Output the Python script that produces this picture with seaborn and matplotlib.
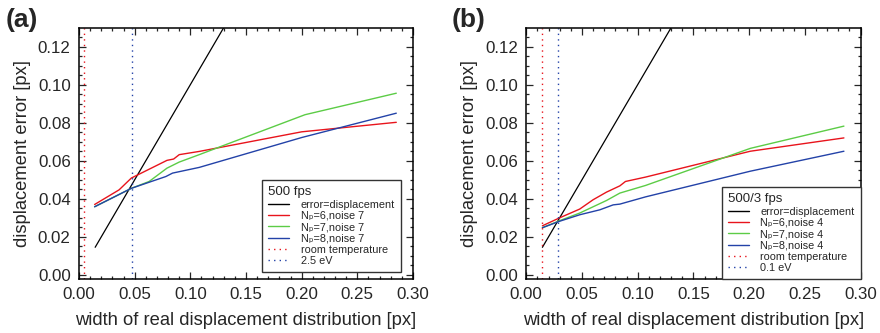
#!/usr/bin/env python3
"""Displacement error vs width of real displacement distribution, two frame rates."""

import matplotlib
matplotlib.use("Agg")
import matplotlib.pyplot as plt
from matplotlib.lines import Line2D
from matplotlib.ticker import MultipleLocator, AutoMinorLocator
import seaborn as sns

# ---- data ----
black_x = [0.0145, 0.135]
black_y = [0.0145, 0.135]

# panel (a): 500 fps, noise 7
a_red_x = [0.014, 0.036, 0.047, 0.079, 0.085, 0.090, 0.108, 0.200, 0.285]
a_red_y = [0.037, 0.0447, 0.0509, 0.0602, 0.0609, 0.0632, 0.0649, 0.0752, 0.0802]
a_green_x = [0.014, 0.047, 0.063, 0.079, 0.090, 0.108, 0.203, 0.285]
a_green_y = [0.0358, 0.0455, 0.0491, 0.0561, 0.0593, 0.0632, 0.0842, 0.0955]
a_blue_x = [0.014, 0.047, 0.078, 0.084, 0.108, 0.200, 0.285]
a_blue_y = [0.0358, 0.0455, 0.0517, 0.0535, 0.0565, 0.0722, 0.0850]
a_vlines = [0.0045, 0.0474]

# panel (b): 500/3 fps, noise 4
b_red_x = [0.0145, 0.030, 0.048, 0.060, 0.072, 0.084, 0.089, 0.107, 0.201, 0.285]
b_red_y = [0.0258, 0.0300, 0.0346, 0.0395, 0.0435, 0.0468, 0.0491, 0.0514, 0.0650, 0.0720]
b_green_x = [0.0145, 0.030, 0.048, 0.072, 0.084, 0.107, 0.201, 0.285]
b_green_y = [0.0248, 0.0285, 0.0325, 0.0391, 0.0430, 0.0470, 0.0665, 0.0782]
b_blue_x = [0.0145, 0.030, 0.048, 0.066, 0.078, 0.084, 0.107, 0.201, 0.285]
b_blue_y = [0.0248, 0.0282, 0.0316, 0.0342, 0.0368, 0.0372, 0.0410, 0.0545, 0.0650]
b_vlines = [0.0144, 0.0287]

RED = "#e8141c"
GREEN = "#5ccc46"
BLUE = "#2342a8"
DOTS = (0, (1, 3))

sns.set_style("ticks")
plt.rcParams['font.family'] = ['Liberation Sans', 'DejaVu Sans']


def draw_panel(ax, red, green, blue, vlines, noise, vlabel):
    sns.lineplot(x=black_x, y=black_y, color="black", lw=0.9, ax=ax, estimator=None)
    sns.lineplot(x=red[0], y=red[1], color=RED, lw=1.0, ax=ax, estimator=None)
    sns.lineplot(x=green[0], y=green[1], color=GREEN, lw=1.0, ax=ax, estimator=None)
    sns.lineplot(x=blue[0], y=blue[1], color=BLUE, lw=1.0, ax=ax, estimator=None)
    ax.axvline(vlines[0], color=RED, ls=DOTS, lw=1.0)
    ax.axvline(vlines[1], color=BLUE, ls=DOTS, lw=1.0)

    ax.set_xlim(0, 0.30)
    ax.set_ylim(-0.0022, 0.1298)
    ax.xaxis.set_major_locator(MultipleLocator(0.05))
    ax.xaxis.set_minor_locator(AutoMinorLocator(5))
    ax.yaxis.set_major_locator(MultipleLocator(0.02))
    ax.yaxis.set_minor_locator(AutoMinorLocator(4))
    ax.xaxis.set_major_formatter(lambda v, p: f"{v:.2f}")
    ax.yaxis.set_major_formatter(lambda v, p: f"{v:.2f}")
    ax.tick_params(which='both', direction='in', top=True, right=True, labelsize=12.2, width=0.9)
    ax.tick_params(which='major', length=5, pad=6)
    ax.tick_params(which='minor', length=2.5)
    for s in ax.spines.values():
        s.set_linewidth(1.1)
        s.set_color("black")
    ax.set_xlabel("width of real displacement distribution [px]", fontsize=13.2, labelpad=7)
    ax.set_ylabel("displacement error [px]", fontsize=13.2, labelpad=5)

    handles = [
        Line2D([], [], color="black", lw=1),
        Line2D([], [], color=RED, lw=1),
        Line2D([], [], color=GREEN, lw=1),
        Line2D([], [], color=BLUE, lw=1),
        Line2D([], [], color=RED, lw=1, ls=DOTS),
        Line2D([], [], color=BLUE, lw=1, ls=DOTS),
    ]
    labels = ["error=displacement",
              f"N\u209a=6,noise {noise}",
              f"N\u209a=7,noise {noise}",
              f"N\u209a=8,noise {noise}",
              "room temperature",
              vlabel]
    return handles, labels


def add_legend(ax, handles, labels, title, anchor):
    leg = ax.legend(handles, labels, title=title, loc='lower right', bbox_to_anchor=anchor,
                    borderaxespad=0, fontsize=7.8, title_fontsize=9.5, frameon=True,
                    fancybox=False, edgecolor="#333333", framealpha=1, handlelength=1.9,
                    handletextpad=1.1, labelspacing=0.12, borderpad=0.55, alignment='left')
    leg.get_frame().set_linewidth(1.0)


fig = plt.figure(figsize=(8.8, 3.33), dpi=100)
ax_a = fig.add_axes([0.0898, 0.162, 0.3795, 0.754])
ax_b = fig.add_axes([0.5980, 0.162, 0.3800, 0.754])

h, l = draw_panel(ax_a, (a_red_x, a_red_y), (a_green_x, a_green_y), (a_blue_x, a_blue_y),
                  a_vlines, 7, "2.5 eV")
add_legend(ax_a, h, l, "500 fps", (0.964, 0.028))

h, l = draw_panel(ax_b, (b_red_x, b_red_y), (b_green_x, b_green_y), (b_blue_x, b_blue_y),
                  b_vlines, 4, "0.1 eV")
add_legend(ax_b, h, l, "500/3 fps", (1.0, 0.0))

fig.text(0.006, 0.94, "(a)", fontsize=19, fontweight='bold', va='center')
fig.text(0.513, 0.94, "(b)", fontsize=19, fontweight='bold', va='center')

fig.savefig("out.png", dpi=100)
